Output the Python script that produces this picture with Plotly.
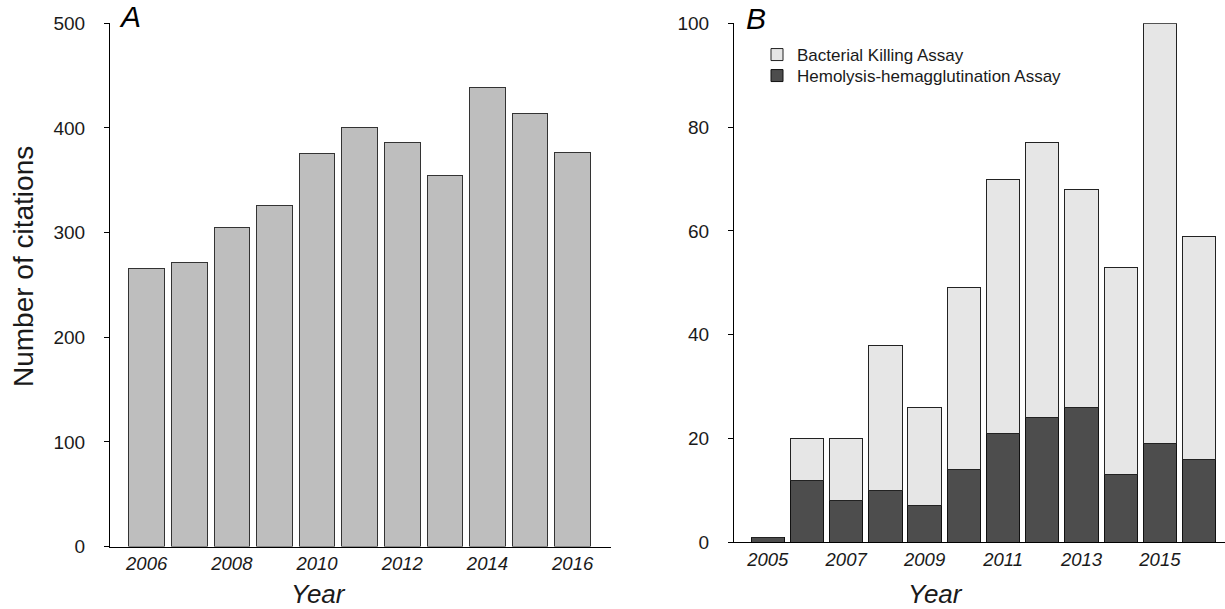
import plotly.graph_objects as go

# ---------------- data ----------------
years_a = ['2006', '2007', '2008', '2009', '2010', '2011', '2012', '2013', '2014', '2015', '2016']
citations = [266, 271, 305, 326, 376, 400, 386, 355, 439, 414, 377]
tick_years_a = ['2006', '2008', '2010', '2012', '2014', '2016']

years_b = ['2005', '2006', '2007', '2008', '2009', '2010', '2011', '2012', '2013', '2014', '2015', '2016']
hemolysis = [1, 12, 8, 10, 7, 14, 21, 24, 26, 13, 19, 16]
bacterial = [0, 8, 12, 28, 19, 35, 49, 53, 42, 40, 81, 43]
tick_years_b = ['2005', '2007', '2009', '2011', '2013', '2015']

yticks_a = [0, 100, 200, 300, 400, 500]
yticks_b = [0, 20, 40, 60, 80, 100]

W, H = 1225, 609
FONT = "Liberation Sans, Arial, sans-serif"
TXT = "#1a1a1a"


def px(x):
    return x / W


def py(y):
    return 1 - y / H


fig = go.Figure()

fig.add_trace(go.Bar(
    x=years_a, y=citations, xaxis="x", yaxis="y", width=0.835,
    marker=dict(color="#bebebe", line=dict(color="#333333", width=1)),
    showlegend=False, hoverinfo="x+y"))

fig.add_trace(go.Bar(
    x=years_b, y=hemolysis, xaxis="x2", yaxis="y2", width=0.85,
    name="Hemolysis-hemagglutination Assay", legend="legend2",
    marker=dict(color="#4d4d4d", line=dict(color="#111111", width=1))))

fig.add_trace(go.Bar(
    x=years_b, y=bacterial, xaxis="x2", yaxis="y2", width=0.85,
    name="Bacterial Killing Assay", legend="legend",
    marker=dict(color="#e6e6e6", line=dict(color="#222222", width=1))))

axis_common = dict(showgrid=False, zeroline=False, showline=True,
                   linecolor="black", linewidth=1)

legend_common = dict(x=px(757), xanchor="left", yanchor="middle",
                     bgcolor="rgba(0,0,0,0)", font=dict(size=17, color=TXT),
                     itemwidth=30)

fig.update_layout(
    width=W, height=H,
    margin=dict(l=0, r=0, t=0, b=0, autoexpand=False),
    paper_bgcolor="white", plot_bgcolor="white",
    barmode="stack",
    font=dict(family=FONT, color=TXT),
    xaxis=dict(domain=[px(110), px(611)], anchor="y", type="category",
               categoryorder="array", categoryarray=years_a,
               range=[-0.86, 10.9], tickvals=tick_years_a, ticks="",
               tickfont=dict(size=18.5, style="italic", color=TXT),
               ticklabelstandoff=0, **axis_common),
    yaxis=dict(domain=[py(546.5), py(23.3)], anchor="x", range=[0, 500],
               tickvals=yticks_a, ticks="outside", ticklen=5, tickcolor="black",
               tickfont=dict(size=19, color=TXT), ticklabelstandoff=15,
               **axis_common),
    xaxis2=dict(domain=[px(734), 1.0], anchor="y2", type="category",
                categoryorder="array", categoryarray=years_b,
                range=[-0.86, 11.66], tickvals=tick_years_b, ticks="",
                tickfont=dict(size=18.5, style="italic", color=TXT),
                ticklabelstandoff=0, **axis_common),
    yaxis2=dict(domain=[py(542.3), py(23.3)], anchor="x2", range=[0, 100],
                tickvals=yticks_b, ticks="outside", ticklen=5, tickcolor="black",
                tickfont=dict(size=19, color=TXT), ticklabelstandoff=15,
                **axis_common),
    legend=dict(y=py(55), **legend_common),
    legend2=dict(y=py(76), **legend_common),
    annotations=[
        dict(text="A", x=px(117), y=py(17), xref="paper", yref="paper",
             xanchor="left", yanchor="middle", showarrow=False,
             font=dict(size=30, style="italic", color="black")),
        dict(text="B", x=px(744), y=py(19), xref="paper", yref="paper",
             xanchor="left", yanchor="middle", showarrow=False,
             font=dict(size=30, style="italic", color="black")),
        dict(text="Number of citations", x=px(23), y=py(267), xref="paper", yref="paper",
             xanchor="center", yanchor="middle", showarrow=False, textangle=-90,
             font=dict(size=28, color=TXT)),
        dict(text="Year", x=px(318), y=py(594), xref="paper", yref="paper",
             xanchor="center", yanchor="middle", showarrow=False,
             font=dict(size=26, style="italic", color=TXT)),
        dict(text="Year", x=px(935), y=py(594), xref="paper", yref="paper",
             xanchor="center", yanchor="middle", showarrow=False,
             font=dict(size=26, style="italic", color=TXT)),
    ],
)

fig.write_html("out.html")
